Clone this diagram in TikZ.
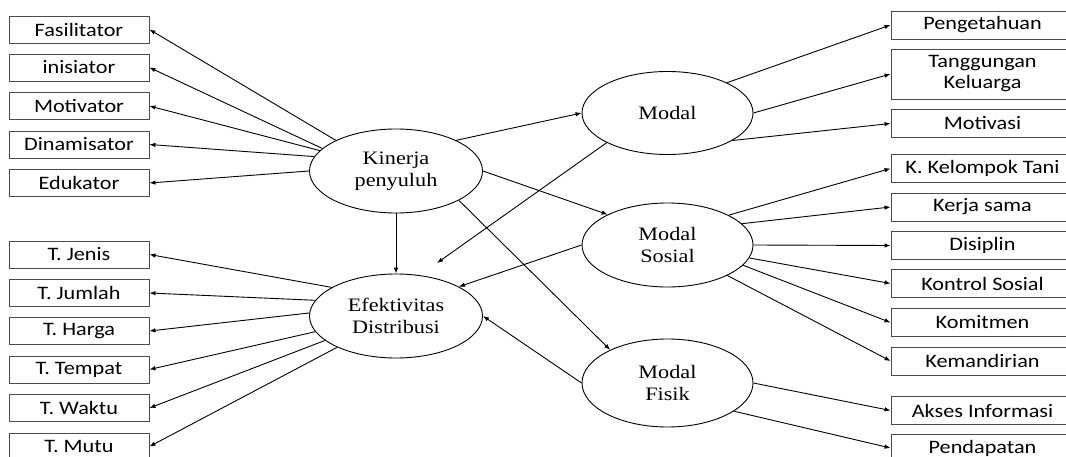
\documentclass[tikz,border=0pt]{standalone}
\usepackage{fontspec}
\setmainfont[FakeStretch=1.17]{Liberation Serif}
\newfontfamily\boxfont[FakeStretch=1.17]{Carlito}
\usetikzlibrary{shapes.geometric,arrows.meta}
\begin{document}
\begin{tikzpicture}[x=1pt,y=-1pt,
  lbox/.style={draw=black!70, line width=0.9pt, minimum width=140pt, minimum height=27pt,
    inner sep=0pt, font=\boxfont\fontsize{19}{21}\selectfont, align=center},
  rbox/.style={lbox, minimum width=183pt, minimum height=28pt},
  ell/.style={draw, ellipse, line width=0.9pt, inner sep=0pt, minimum width=173pt,
    minimum height=84pt, font=\fontsize{19}{22}\selectfont, align=center},
  arr/.style={-{Latex[length=6pt,width=4.5pt]}, line width=0.9pt}]
\useasboundingbox (0,0) rectangle (1066,457);
\fill[white] (0,0) rectangle (1066,457);
\clip (0,0) rectangle (1066,457);

% ellipses
\node[ell] (kin) at (396,171) {Kinerja\\penyuluh};
\node[ell] (eff) at (396,316) {Efektivitas\\Distribusi};
\node[ell, minimum width=171pt, minimum height=83pt] (modal) at (667.5,113) {Modal};
\node[ell, minimum width=171pt, minimum height=84pt] (sos) at (667.5,245) {Modal\\Sosial};
\node[ell, minimum width=171pt, minimum height=88pt] (fis) at (667.5,383) {Modal\\Fisik};

% left top boxes
\node[lbox] (fas) at (79,29.5) {Fasilitator};
\node[lbox] (ini) at (79,67.5) {inisiator};
\node[lbox] (mot) at (79,106) {Motivator};
\node[lbox] (din) at (79,144.5) {Dinamisator};
\node[lbox] (edu) at (79,183) {Edukator};

% left bottom boxes
\node[lbox] (tje) at (79,254.5) {T. Jenis};
\node[lbox] (tju) at (79,293) {T. Jumlah};
\node[lbox] (tha) at (79,331) {T. Harga};
\node[lbox] (tte) at (79,369.5) {T. Tempat};
\node[lbox] (twa) at (79,408) {T. Waktu};
\node[lbox] (tmu) at (79,446.5) {T. Mutu};

% right boxes
\node[rbox] (pen) at (982.5,25) {Pengetahuan};
\node[rbox, minimum height=50pt] (tan) at (982.5,74) {Tanggungan\\Keluarga};
\node[rbox] (mov) at (982.5,123.5) {Motivasi};
\node[rbox] (kkt) at (982.5,168.5) {K. Kelompok Tani};
\node[rbox] (ker) at (982.5,207) {Kerja sama};
\node[rbox] (dis) at (982.5,245.5) {Disiplin};
\node[rbox] (kon) at (982.5,283.5) {Kontrol Sosial};
\node[rbox] (kom) at (982.5,322.5) {Komitmen};
\node[rbox] (kem) at (982.5,361) {Kemandirian};
\node[rbox] (aks) at (982.5,410.5) {Akses Informasi};
\node[rbox] (pda) at (982.5,448) {Pendapatan};

\coordinate (effm) at (437,263);

% kinerja -> left boxes
\draw[arr] (kin.153) -- (fas.east);
\draw[arr] (kin.163) -- (ini.east);
\draw[arr] (kin.165) -- (mot.east);
\draw[arr] (kin.170) -- (din.east);
\draw[arr] (kin.west) -- (edu.east);

% efektivitas -> left boxes
\draw[arr] (eff.156) -- (tje.east);
\draw[arr] (eff.169) -- (tju.east);
\draw[arr] (eff.178) -- (tha.east);
\draw[arr] (eff.191) -- (tte.east);
\draw[arr] (eff.199) -- (twa.east);
\draw[arr] (eff.208) -- (tmu.east);

% central structure
\draw[arr] (kin.south) -- (eff.north);
\draw[arr] (kin.27) -- (modal.west);
\draw[arr] (kin.east) -- (sos.153);
\draw[arr] (kin.-25) -- (fis.150);
\draw[arr] (modal.206) -- (effm);
\draw[arr] (sos.west) -- (eff.25);
\draw[arr] (fis.west) -- (eff.east);

% modal -> right
\draw[arr] (modal.27) -- (pen.west);
\draw[arr] (modal.east) -- (tan.west);
\draw[arr] (modal.-23) -- (mov.west);

% modal sosial -> right
\draw[arr] (sos.26) -- (kkt.west);
\draw[arr] (sos.16) -- (ker.west);
\draw[arr] (sos.east) -- (dis.west);
\draw[arr] (sos.-9) -- (kon.west);
\draw[arr] (sos.-15) -- (kom.west);
\draw[arr] (sos.-27) -- (kem.west);

% modal fisik -> right
\draw[arr] (fis.east) -- (aks.west);
\draw[arr] (fis.-23) -- (pda.west);
\end{tikzpicture}
\end{document}
